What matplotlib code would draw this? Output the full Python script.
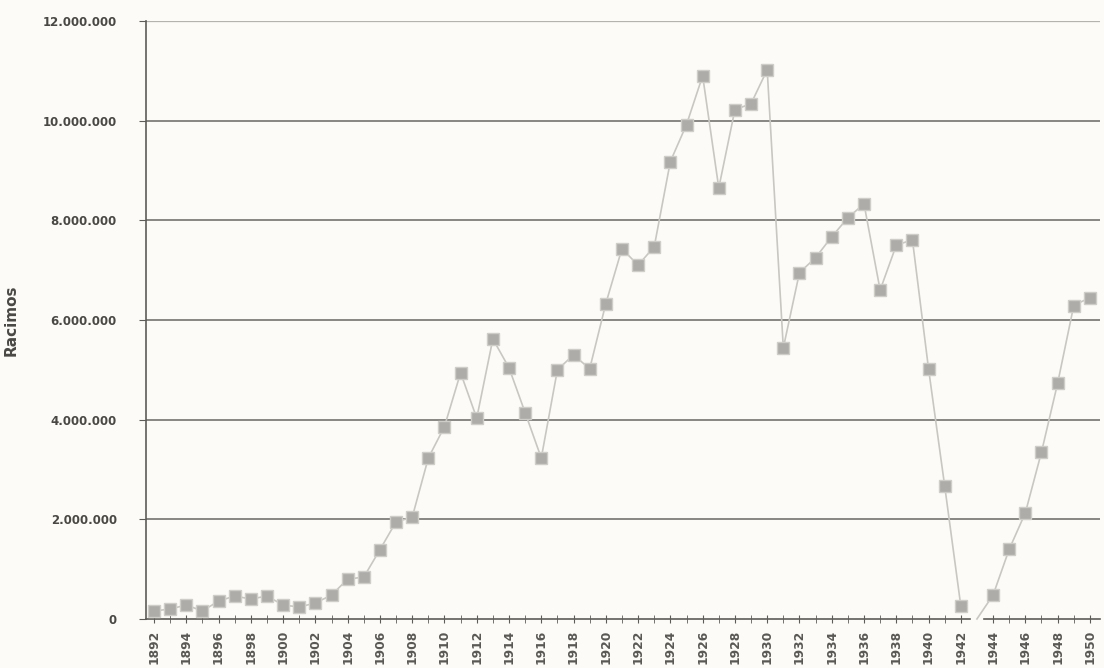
import matplotlib
matplotlib.use("Agg")
import matplotlib.pyplot as plt
from matplotlib.ticker import FuncFormatter, MultipleLocator

years = list(range(1892, 1951))
racimos_millions = [
    0.16, 0.20, 0.28, 0.16, 0.36, 0.46, 0.40, 0.46, 0.28, 0.24,   # 1892-1901
    0.32, 0.48, 0.80, 0.84, 1.39, 1.95, 2.04, 3.23, 3.86, 4.94,   # 1902-1911
    4.03, 5.62, 5.04, 4.14, 3.23, 5.00, 5.30, 5.02, 6.33, 7.43,   # 1912-1921
    7.10, 7.47, 9.18, 9.92, 10.90, 8.65, 10.22, 10.34, 11.02, 5.44,  # 1922-1931
    6.95, 7.25, 7.67, 8.05, 8.33, 6.60, 7.50, 7.61, 5.02, 2.67,   # 1932-1941
    0.26, 0.0, 0.48, 1.40, 2.13, 3.35, 4.73, 6.29, 6.45,         # 1942-1950
]
racimos = [v * 1_000_000 for v in racimos_millions]
ylabel = "Racimos"
gap_year = 1943

bg = "#fcfbf7"
fig = plt.figure(figsize=(11.04, 6.68), dpi=100, facecolor=bg)
ax = fig.add_axes([0.1322, 0.0734, 0.8638, 0.8952], facecolor=bg)

split = years.index(gap_year)
segments = [(years[:split], racimos[:split]), (years[split:], racimos[split:])]
for xs, ys in segments:
    idx = [i for i, v in enumerate(ys) if v > 0]
    ax.plot(xs, ys, color="#c9c7c2", lw=1.2, zorder=3,
            marker="s", markersize=8, markerfacecolor="#aeaca8",
            markeredgecolor="#cfcdc8", markeredgewidth=1.0, markevery=idx,
            clip_on=False)

ax.set_ylim(0, 12_000_000)
ax.set_xlim(1891.5, 1950.6)

ax.yaxis.set_major_locator(MultipleLocator(2_000_000))
ax.yaxis.set_major_formatter(FuncFormatter(lambda v, p: f"{int(v):,}".replace(",", ".")))
ax.set_xticks(years[::2])
ax.set_xticks([y for y in years if y != gap_year], minor=True)
ax.set_xticklabels([str(y) for y in years[::2]], rotation=90)

for y in range(2_000_000, 12_000_001, 2_000_000):
    if y == 12_000_000:
        ax.axhline(y, color="#b5b3ae", lw=0.9, zorder=1)
    else:
        ax.axhline(y, color="#75736f", lw=1.2, zorder=1)

for s in ["top", "right", "bottom"]:
    ax.spines[s].set_visible(False)
ax.spines["left"].set_color("#5e5c58")
ax.spines["left"].set_linewidth(1.2)
# bottom axis drawn with a small break at the gap year
xmin, xmax = ax.get_xlim()
ax.plot([xmin, gap_year - 0.45], [0, 0], color="#5e5c58", lw=1.2, zorder=2, clip_on=False)
ax.plot([gap_year + 0.45, xmax], [0, 0], color="#5e5c58", lw=1.2, zorder=2, clip_on=False)

ax.tick_params(axis="y", which="major", direction="out", length=5, color="#5e5c58",
               labelsize=8.5, labelcolor="#4a4845", pad=16)
ax.tick_params(axis="x", which="both", direction="inout", length=6, color="#5e5c58",
               labelsize=8.8, labelcolor="#5a5854", pad=5)
for lab in ax.get_yticklabels():
    lab.set_fontweight("bold")
for lab in ax.get_xticklabels():
    lab.set_fontweight("bold")

ax.set_ylabel(ylabel, fontsize=11, color="#4a4845", fontweight="semibold")
ax.yaxis.set_label_coords(-0.133, 0.5)

fig.savefig("out.png", dpi=100, facecolor=bg)
